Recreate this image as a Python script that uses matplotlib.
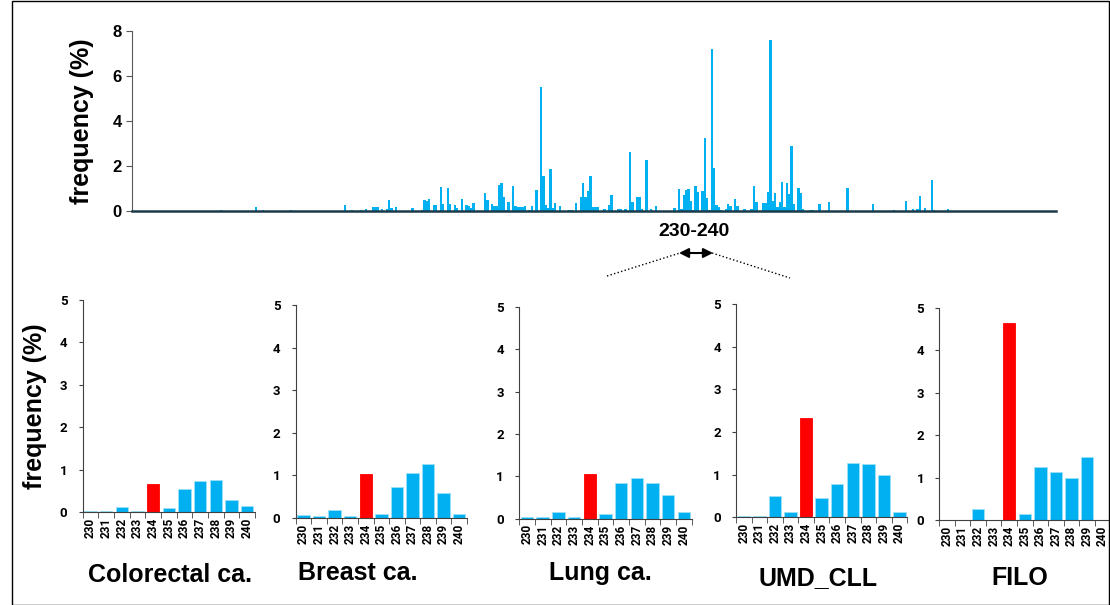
import matplotlib.pyplot as plt
from matplotlib.patches import Rectangle

# top panel: codon -> mutation frequency (%)
top_codons = [38, 53, 56, 68, 91, 94, 98, 100, 103, 104, 105, 107, 109, 110, 111, 113,
              120, 124, 125, 126, 127, 129, 130, 132, 133, 135, 136, 138, 139, 141, 143,
              144, 145, 146, 151, 152, 154, 155, 156, 157, 158, 159, 160, 161, 163, 164,
              165, 166, 167, 168, 170, 171, 173, 175, 176, 177, 178, 179, 180, 181, 183,
              187, 188, 190, 192, 193, 194, 195, 196, 197, 198, 199, 202, 204, 205, 208,
              209, 211, 213, 214, 216, 217, 218, 220, 222, 224, 232, 234, 235, 236, 237,
              238, 239, 240, 241, 242, 244, 245, 246, 247, 248, 249, 250, 251, 252, 254,
              255, 256, 258, 259, 262, 265, 266, 267, 270, 271, 272, 273, 274, 275, 276,
              277, 278, 279, 280, 281, 282, 283, 285, 286, 287, 290, 291, 294, 298, 306,
              317, 326, 331, 334, 336, 337, 339, 342, 343, 349]
top_freq = [0.05, 0.2, 0.06, 0.05, 0.29, 0.07, 0.07, 0.11, 0.2, 0.2, 0.2, 0.1, 0.1, 0.51, 0.16, 0.2,
            0.16, 0.07, 0.5, 0.46, 0.55, 0.29, 0.29, 1.07, 0.33, 1.03, 0.33, 0.29, 0.16, 0.55, 0.29,
            0.24, 0.16, 0.37, 0.79, 0.51, 0.33, 0.24, 0.24, 1.14, 1.26, 0.61, 0.07, 0.42, 1.1, 0.24,
            0.2, 0.2, 0.2, 0.24, 0.07, 0.21, 0.94, 5.5, 1.55, 0.29, 0.16, 1.89, 0.14, 0.37, 0.24,
            0.07, 0.07, 0.37, 0.61, 1.26, 0.61, 0.88, 1.58, 0.2, 0.2, 0.2, 0.11, 0.29, 0.73, 0.11,
            0.11, 0.11, 2.64, 0.42, 0.61, 0.64, 0.11, 2.25, 0.11, 0.24, 0.16, 0.97, 0.11, 0.73, 0.94,
            0.99, 0.47, 0.04, 1.1, 0.84, 0.88, 3.25, 0.59, 0.07, 7.2, 1.92, 0.27, 0.17, 0.04, 0.11,
            0.3, 0.22, 0.53, 0.24, 0.11, 0.11, 1.1, 0.39, 0.34, 0.37, 0.83, 7.58, 0.47, 0.8, 0.2,
            0.39, 1.3, 0.2, 1.23, 0.76, 2.91, 0.3, 1.03, 0.8, 0.11, 0.07, 0.04, 0.31, 0.39, 1.03,
            0.32, 0.07, 0.45, 0.09, 0.09, 0.67, 0.14, 1.37, 0.04, 0.09]

# zoom panels, codons 230-240
zoom_codons = ['230', '231', '232', '233', '234', '235', '236', '237', '238', '239', '240']
titles = ['Colorectal ca.', 'Breast ca.', 'Lung ca.', 'UMD_CLL', 'FILO']
colorectal = [0.03, 0.03, 0.13, 0.03, 0.67, 0.1, 0.55, 0.73, 0.75, 0.28, 0.15]
breast = [0.06, 0.04, 0.18, 0.05, 1.03, 0.09, 0.73, 1.05, 1.28, 0.58, 0.09]
lung = [0.03, 0.03, 0.15, 0.03, 1.05, 0.1, 0.85, 0.97, 0.85, 0.55, 0.15]
umd_cll = [0.03, 0.03, 0.49, 0.13, 2.33, 0.45, 0.77, 1.27, 1.24, 0.99, 0.13]
filo = [0, 0, 0.25, 0, 4.64, 0.13, 1.24, 1.12, 1.0, 1.49, 0]
highlight = '234'

BLUE = '#00B0F0'
RED = '#FF0000'

fig = plt.figure(figsize=(11.1, 6.05), dpi=100)

# ---- top panel ----
ax = fig.add_axes([0.119, 0.651, 0.832, 0.298])
ax.bar(top_codons, top_freq, width=1.0, color=BLUE, linewidth=0)
ax.set_xlim(0, 395)
ax.set_ylim(0, 8)
ax.set_yticks([0, 2, 4, 6, 8])
ax.set_xticks([])
for s in ['top', 'right']:
    ax.spines[s].set_visible(False)
ax.spines['left'].set_color('#595959')
ax.spines['bottom'].set_color('#1a3a4a')
ax.spines['bottom'].set_linewidth(1.8)
ax.tick_params(axis='y', direction='out', length=4, color='#595959')
for t in ax.get_yticklabels():
    t.set_fontfamily('Liberation Sans')
    t.set_fontweight('bold')
    t.set_fontsize(12)
fig.text(0.074, 0.80, 'frequency (%)', rotation=90, ha='center', va='center',
         fontsize=18, fontweight='bold', family='Liberation Sans')

# range marker
fig.text(694/1110, 1 - 231/605, '230-240', ha='center', va='center',
         fontsize=14, fontweight='bold', family='Liberation Sans')
fig.add_artist(plt.Line2D([607/1110, 680/1110], [1 - 276/605, 1 - 253/605],
                          transform=fig.transFigure, color='black', lw=1, ls=':'))
fig.add_artist(plt.Line2D([712/1110, 790/1110], [1 - 253/605, 1 - 278/605],
                          transform=fig.transFigure, color='black', lw=1, ls=':'))
plt.annotate('', xy=(713/1110, 1 - 253/605), xytext=(679/1110, 1 - 253/605),
             xycoords='figure fraction', textcoords='figure fraction',
             arrowprops=dict(arrowstyle='<|-|>', color='black', lw=1.5,
                             mutation_scale=14, shrinkA=0, shrinkB=0))

# ---- zoom panels ----
panels = [colorectal, breast, lung, umd_cll, filo]
boxes = [[0.0745, 0.1532, 0.1552, 0.3509],
         [0.2664, 0.1438, 0.1543, 0.3516],
         [0.4678, 0.1426, 0.1553, 0.3504],
         [0.6631, 0.1450, 0.1543, 0.3521],
         [0.8462, 0.1405, 0.1540, 0.3509]]
title_pos = [(170, 575), (358, 573), (600, 573), (818, 578), (1020, 578)]

for vals, box, title, tp in zip(panels, boxes, titles, title_pos):
    a = fig.add_axes(box)
    x = list(range(len(zoom_codons)))
    cols = [RED if c == highlight else BLUE for c in zoom_codons]
    edges = [RED if c == highlight else '#9fe0f7' for c in zoom_codons]
    a.bar(x, vals, width=0.8, color=cols, edgecolor=edges, linewidth=0.6)
    a.set_xlim(-0.5, len(x) - 0.5)
    a.set_ylim(0, 5)
    a.set_yticks([0, 1, 2, 3, 4, 5])
    a.set_xticks(x)
    a.set_xticklabels(zoom_codons, rotation=90)
    a.set_xticks([i - 0.5 for i in range(len(x) + 1)], minor=True)
    a.tick_params(axis='x', which='major', length=0, pad=4)
    a.tick_params(axis='x', which='minor', length=4, direction='out', color='#404040')
    a.tick_params(axis='y', length=3, direction='out', color='#404040', pad=8)
    for s in ['top', 'right']:
        a.spines[s].set_visible(False)
    a.spines['left'].set_color('#404040')
    a.spines['bottom'].set_color('#404040')
    for t in a.get_xticklabels():
        t.set_fontfamily('Roboto')
        t.set_fontweight('bold')
        t.set_fontsize(8.5)
    for t in a.get_yticklabels():
        t.set_fontfamily('Roboto')
        t.set_fontweight('bold')
        t.set_fontsize(9.5)
    fig.text(tp[0]/1110, 1 - tp[1]/605, title, ha='center', va='center',
             fontsize=18, fontweight='bold', family='Liberation Sans')

fig.text(35/1110, 1 - 406/605, 'frequency (%)', rotation=90, ha='center', va='center',
         fontsize=18, fontweight='bold', family='Liberation Sans')

# frame around the whole figure
fig.add_artist(Rectangle((11.5/1110, 0.5/605), 1097/1110, 603.5/605, transform=fig.transFigure,
                         fill=False, edgecolor='black', linewidth=1))

plt.savefig('out.png', dpi=100)
